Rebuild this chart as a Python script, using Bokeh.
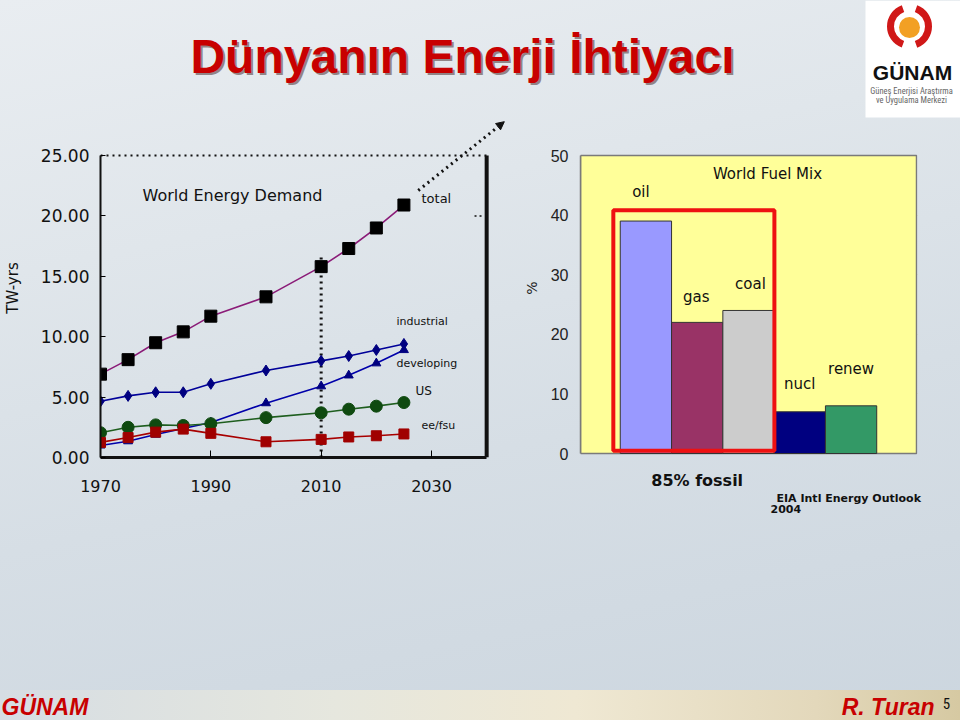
from bokeh.plotting import figure
from bokeh.layouts import column, row
from bokeh.models import (Label, Arrow, NormalHead, FixedTicker, Title,
                          NumeralTickFormatter, ColumnDataSource, Range1d)
from bokeh.embed import file_html
from bokeh.resources import INLINE

# ---------------- data ----------------
years = [1970, 1975, 1980, 1985, 1990, 2000, 2010, 2015, 2020, 2025]
total = [6.9, 8.1, 9.5, 10.4, 11.7, 13.3, 15.8, 17.3, 19.0, 20.9]
industrial = [4.65, 5.1, 5.4, 5.4, 6.1, 7.2, 8.0, 8.4, 8.9, 9.4]
developing = [1.0, 1.35, 1.9, 2.4, 2.9, 4.5, 5.9, 6.8, 7.8, 8.9]
us = [2.05, 2.5, 2.7, 2.65, 2.8, 3.3, 3.7, 4.0, 4.25, 4.55]
ee_fsu = [1.25, 1.65, 2.1, 2.35, 2.0, 1.3, 1.5, 1.7, 1.8, 1.95]
year_ticks = [1970, 1990, 2010, 2030]
twyr_ticks = [0, 5, 10, 15, 20, 25]
year_span = (1970, 2040)
twyr_span = (0, 25)
now_year = 2010

fuels = ["oil", "gas", "coal", "nucl", "renew"]
shares = [39, 22, 24, 7, 8]
pct_ticks = [0, 10, 20, 30, 40, 50]
pct_span = (0, 50)
fossil = [0, 1, 2]

# ---------------- styling ----------------
FONT = "DejaVu Sans"
ARIAL = "Liberation Sans"
COND = "Roboto Condensed"
fuel_colors = ["#9999FF", "#993366", "#CCCCCC", "#000080", "#339966"]
label_lift = [29, 25, 26, 28, 37]
label_shift = [-5, -1, 2, 0, 0]

TOP_H, MID_H, FOOT_H = 118, 572, 30
BORDER_BOTTOM = 233            # shared by both charts (row aligns frames)
FRAME_H = MID_H - BORDER_BOTTOM
FRAME_BOTTOM_PAGE = TOP_H + FRAME_H


def frame_label(fig, fl, px, py, text, size, align="left", style="normal",
                color="#111111", font=FONT):
    fig.add_layout(Label(x=px - fl, y=FRAME_BOTTOM_PAGE - py, x_units="screen",
                         y_units="screen", text=text, text_font=font,
                         text_font_size=f"{size}px", text_font_style=style,
                         text_color=color, text_align=align, text_baseline="middle"))


# ---------------- title strip ----------------
top = figure(width=960, height=TOP_H, x_range=Range1d(0, 960), y_range=Range1d(0, TOP_H),
             x_axis_type=None, y_axis_type=None, output_backend="svg", toolbar_location=None,
             min_border=0, outline_line_color=None, background_fill_color=None,
             border_fill_color=None)
top.grid.visible = False
title = "Dünyanın Enerji İhtiyacı"
top.text(x=[464], y=[TOP_H - 58], text=[title], text_font={"value": ARIAL},
         text_font_size="48px", text_font_style="bold", text_color="#402020", text_alpha=0.5,
         text_align="center", text_baseline="middle")
top.text(x=[462], y=[TOP_H - 56], text=[title], text_font={"value": ARIAL},
         text_font_size="48px", text_font_style="bold", text_color="#C80000",
         text_align="center", text_baseline="middle")
# logo
top.quad(left=865, right=960, bottom=1, top=TOP_H, fill_color="white", line_color=None)
top.arc(x=909, y=TOP_H - 26, radius=19, start_angle=1.92, end_angle=4.36,
        line_color="#D01818", line_width=7)
top.arc(x=909, y=TOP_H - 26, radius=19, start_angle=-1.22, end_angle=1.22,
        line_color="#D01818", line_width=7)
top.circle(x=909, y=TOP_H - 27, radius=10.5, fill_color="#F2A024", line_color=None)
top.text(x=[912], y=[TOP_H - 72], text=["GÜNAM"], text_font={"value": ARIAL},
         text_font_size="21px", text_font_style="bold", text_color="#111111",
         text_align="center", text_baseline="middle")
top.text(x=[911, 911], y=[TOP_H - 90, TOP_H - 99],
         text=["Güneş Enerjisi Araştırma", "ve Uygulama Merkezi"],
         text_font={"value": COND}, text_font_size="8.5px",
         text_color="#666666", text_align="center", text_baseline="middle")

# ---------------- left chart ----------------
L_LEFT = 98
L_FW = 520 - L_LEFT
px_per_year = 388 / (year_span[1] - year_span[0])
px_per_tw = 302 / (twyr_span[1] - twyr_span[0])
pL = figure(width=520, height=MID_H,
            x_range=Range1d(year_span[0], year_span[0] + L_FW / px_per_year),
            y_range=Range1d(twyr_span[0], twyr_span[0] + FRAME_H / px_per_tw),
            output_backend="svg", toolbar_location=None,
            min_border_left=L_LEFT, min_border_right=0, min_border_top=0,
            min_border_bottom=BORDER_BOTTOM,
            background_fill_color=None, border_fill_color=None, outline_line_color=None)
pL.grid.visible = False
pL.yaxis.bounds = twyr_span
pL.yaxis.ticker = FixedTicker(ticks=twyr_ticks)
pL.yaxis.formatter = NumeralTickFormatter(format="0.00")
pL.yaxis.major_label_text_font = FONT
pL.yaxis.major_label_text_font_size = "17px"
pL.yaxis.major_label_text_color = "#111111"
pL.yaxis.major_tick_in = 5
pL.yaxis.major_tick_out = 0
pL.yaxis.minor_tick_line_color = None
pL.yaxis.axis_line_width = 2
pL.yaxis.axis_line_color = "#111111"
pL.yaxis.major_label_standoff = 11
pL.yaxis.axis_label = "TW-yrs"
pL.yaxis.axis_label_text_font = FONT
pL.yaxis.axis_label_text_font_size = "15px"
pL.yaxis.axis_label_text_font_style = "normal"
pL.yaxis.axis_label_text_color = "#111111"
pL.yaxis.axis_label_standoff = 16

pL.xaxis.bounds = year_span
pL.xaxis.ticker = FixedTicker(ticks=year_ticks)
pL.xaxis.major_label_text_font = FONT
pL.xaxis.major_label_text_font_size = "16px"
pL.xaxis.major_label_text_color = "#111111"
pL.xaxis.major_tick_in = 7
pL.xaxis.major_tick_out = 0
pL.xaxis.minor_tick_line_color = None
pL.xaxis.axis_line_width = 3
pL.xaxis.axis_line_color = "#111111"
pL.xaxis.major_label_standoff = 22

# frame: dotted top, heavy right border
pL.segment(x0=[year_span[0]], y0=[twyr_span[1]], x1=[year_span[1]], y1=[twyr_span[1]],
           line_color="#111111", line_width=2, line_dash="dotted")
pL.segment(x0=[year_span[1]], y0=[twyr_span[0]], x1=[year_span[1]], y1=[twyr_span[1]],
           line_color="#111111", line_width=4)
pL.segment(x0=[2037.8], y0=[20], x1=[2039.5], y1=[20], line_color="#111111",
           line_width=1.5, line_dash="2 3")
# "today" marker and projection arrow
pL.segment(x0=[now_year], y0=[0], x1=[now_year], y1=[16.6], line_color="#111111",
           line_width=3, line_dash="dotted")
pL.add_layout(Arrow(x_start=2027.6, y_start=22.1, x_end=2043.2, y_end=27.8,
                    line_color="#111111", line_width=3, line_dash="dotted",
                    end=NormalHead(size=8, fill_color="#111111", line_color="#111111")))

src = ColumnDataSource(dict(year=years, total=total, industrial=industrial,
                            developing=developing, us=us, ee=ee_fsu))
series = [
    ("total", "#8B1C78", "square", "#000000", 12),
    ("industrial", "#000099", "diamond", "#000080", 11),
    ("developing", "#0000AA", "triangle", "#000080", 9),
    ("us", "#1E5E1E", "circle", "#0F4A10", 12),
    ("ee", "#A80000", "square", "#A00000", 10),
]
for col, lc, mk, mc, sz in series:
    pL.line("year", col, source=src, line_color=lc, line_width=1.6)
for col, lc, mk, mc, sz in series:
    pL.scatter("year", col, source=src, marker=mk, size=sz, fill_color=mc, line_color=mc)

frame_label(pL, L_LEFT, 230, 195, "World Energy Demand", 16, align="center")
frame_label(pL, L_LEFT, 419, 198, "total", 13)
frame_label(pL, L_LEFT, 394, 321, "industrial", 11)
frame_label(pL, L_LEFT, 394, 363, "developing", 11)
frame_label(pL, L_LEFT, 413, 390, "US", 12)
frame_label(pL, L_LEFT, 419, 425, "ee/fsu", 11)

# ---------------- right chart ----------------
R_LEFT, R_RIGHT = 58, 43
R_FL = 520 + R_LEFT
bar_px = 51.6
pct_px = 298 / (pct_span[1] - pct_span[0])
zero_gap = (FRAME_BOTTOM_PAGE - 453) / pct_px
x0 = -1.275
idx = list(range(len(fuels)))
pR = figure(width=440, height=MID_H,
            x_range=Range1d(x0, x0 + (440 - R_LEFT - R_RIGHT) / bar_px),
            y_range=Range1d(-zero_gap, -zero_gap + FRAME_H / pct_px),
            output_backend="svg", toolbar_location=None,
            min_border_left=R_LEFT, min_border_right=R_RIGHT, min_border_top=0,
            min_border_bottom=BORDER_BOTTOM,
            background_fill_color=None, border_fill_color=None, outline_line_color=None)
pR.quad(left=[x0], right=[x0 + 338 / bar_px], bottom=[pct_span[0]], top=[pct_span[1]],
        fill_color="#FFFF99", line_color="#7a7a7a", line_width=1.5)
pR.xgrid.visible = False
pR.ygrid.grid_line_color = "#C9C99A"
pR.ygrid.ticker = FixedTicker(ticks=pct_ticks[1:-1])
pR.yaxis.bounds = pct_span
pR.yaxis.ticker = FixedTicker(ticks=pct_ticks)
pR.yaxis.major_label_text_font = ARIAL
pR.yaxis.major_label_text_font_size = "16px"
pR.yaxis.major_label_text_color = "#222222"
pR.yaxis.major_tick_in = 0
pR.yaxis.major_tick_out = 0
pR.yaxis.minor_tick_line_color = None
pR.yaxis.axis_line_color = "#7a7a7a"
pR.yaxis.axis_line_width = 1.5
pR.yaxis.major_label_standoff = 12
pR.yaxis.axis_label = "%"
pR.yaxis.axis_label_text_font = FONT
pR.yaxis.axis_label_text_font_size = "14px"
pR.yaxis.axis_label_text_font_style = "normal"
pR.yaxis.axis_label_text_color = "#222222"
pR.yaxis.axis_label_standoff = 8

# x axis carries the "85% fossil" caption under the fossil group
fossil_mid = sum(fossil) / len(fossil)
pR.xaxis.ticker = FixedTicker(ticks=[fossil_mid])
pR.xaxis.major_label_overrides = {fossil_mid: "85% fossil"}
pR.xaxis.axis_line_color = None
pR.xaxis.major_tick_line_color = None
pR.xaxis.minor_tick_line_color = None
pR.xaxis.major_label_text_font = FONT
pR.xaxis.major_label_text_font_size = "16px"
pR.xaxis.major_label_text_font_style = "bold"
pR.xaxis.major_label_text_color = "#111111"
pR.xaxis.major_label_standoff = 7
pR.add_layout(Title(text="EIA Intl Energy Outlook", align="left", offset=774 - R_FL,
                    text_font=FONT, text_font_size="11px", text_font_style="bold",
                    text_color="#111111", standoff=-5), "below")
pR.add_layout(Title(text="2004", align="left", offset=768 - R_FL,
                    text_font=FONT, text_font_size="11px", text_font_style="bold",
                    text_color="#111111", standoff=0), "below")

bsrc = ColumnDataSource(dict(x=idx, top=shares, fuel=fuels, color=fuel_colors,
                             lift=[-v for v in label_lift], shift=label_shift))
pR.vbar(x="x", top="top", width=1, source=bsrc, fill_color="color", line_color="#333333",
        line_width=1)
pR.text(x="x", y="top", text="fuel", source=bsrc, y_offset="lift", x_offset="shift",
        text_font={"value": FONT}, text_font_size="15px", text_color="#111111",
        text_align="center", text_baseline="middle")
pR.quad(left=[min(fossil) - 0.635], right=[max(fossil) + 0.505], bottom=[0.45], top=[40.8],
        fill_color=None, line_color="#EE1111", line_width=4)

frame_label(pR, R_FL, 765, 173, "World Fuel Mix", 15, align="center")

# ---------------- footer ----------------
foot = figure(width=960, height=FOOT_H, x_range=Range1d(0, 960), y_range=Range1d(0, FOOT_H),
              x_axis_type=None, y_axis_type=None, output_backend="svg", toolbar_location=None,
              min_border=0, outline_line_color=None, background_fill_color=None,
              border_fill_color=None,
              styles={"background": "linear-gradient(90deg, #d6dde3 0%, #e6e7de 35%, #efe8d3 60%, #e3d8bb 85%, #d6c9a2 100%)"})
foot.grid.visible = False
foot.text(x=[1], y=[14], text=["GÜNAM"], text_font={"value": ARIAL},
          text_font_size="23px", text_font_style="bold italic", text_color="#C80000",
          text_align="left", text_baseline="middle")
foot.text(x=[934], y=[14], text=["R. Turan"], text_font={"value": ARIAL},
          text_font_size="23px", text_font_style="bold italic", text_color="#C80000",
          text_align="right", text_baseline="middle")
foot.text(x=[946], y=[17], text=["5"], text_font={"value": COND},
          text_font_size="15px", text_color="#111111", text_align="center",
          text_baseline="middle")

layout = column(top, row(pL, pR, spacing=0), foot, spacing=0,
                styles={"background": "linear-gradient(168deg, #e9edf1 0%, #e0e6eb 30%, #d6dee5 60%, #ccd6df 100%)"})

open("out.html", "w").write(file_html(layout, INLINE))
